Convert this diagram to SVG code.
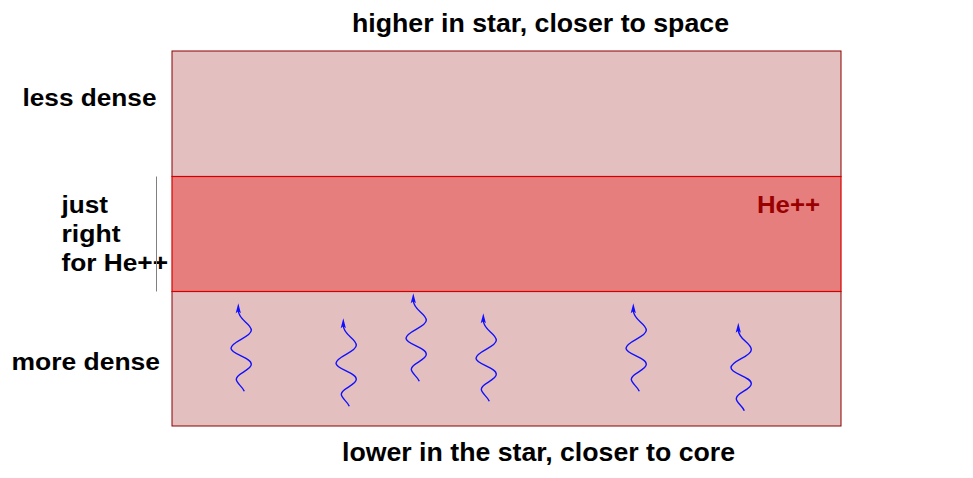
<svg xmlns="http://www.w3.org/2000/svg" xmlns:xlink="http://www.w3.org/1999/xlink" width="973" height="478" viewBox="0 0 973 478">
  <style>
    text { font-family: "Liberation Sans", Arial, sans-serif; font-weight: bold; fill: #000; }
    .side { font-size: 23px; }
    .edge { font-size: 25.5px; }
    .he { font-size: 24px; fill: #990000; }
    .light { fill: #e3bfc0; stroke: #8b0000; stroke-width: 1; }
    .mid { fill: #e67e7d; stroke: #d40000; stroke-width: 1.2; }
    .wave { fill: none; stroke: #1010ff; stroke-width: 1.4; }
    .head { fill: #1010ff; }
  </style>
  <defs>
    <g id="photon">
      <path class="wave" d="M6,88 C4,83 -2,80 -2,76 C-2,70 13,67 13,61 C13,54 -7.3,51 -7.3,45 C-7.3,38 13,34 13,27 C13,20 0,17 0,7"/>
      <polygon class="head" points="0,0 -2.6,10 0,8 2.6,10"/>
    </g>
  </defs>

  <g id="band-top">
    <rect class="light" x="172" y="51" width="669" height="125.5"/>
  </g>
  <g id="band-bottom">
    <rect class="light" x="172" y="291.5" width="669" height="134.5"/>
  </g>
  <g id="band-middle">
    <rect class="mid" x="172" y="176.5" width="669" height="115"/>
    <text class="he" x="757" y="212.5" textLength="63" lengthAdjust="spacingAndGlyphs">He++</text>
  </g>

  <g id="labels">
    <text class="edge" x="352" y="32" textLength="377" lengthAdjust="spacingAndGlyphs">higher in star, closer to space</text>
    <text class="edge" x="342" y="461" textLength="393" lengthAdjust="spacingAndGlyphs">lower in the star, closer to core</text>
    <text class="side" x="22.5" y="106" textLength="134" lengthAdjust="spacingAndGlyphs">less dense</text>
    <text class="side" x="11.5" y="370" textLength="148.5" lengthAdjust="spacingAndGlyphs">more dense</text>
    <text class="side" x="61.5" y="212.5" textLength="46.5" lengthAdjust="spacingAndGlyphs">just</text>
    <text class="side" x="61.5" y="241.5" textLength="59" lengthAdjust="spacingAndGlyphs">right</text>
    <text class="side" x="61.5" y="270.5" textLength="106.5" lengthAdjust="spacingAndGlyphs">for He++</text>
  </g>

  <g id="connectors">
    <line x1="156.5" y1="176.5" x2="156.5" y2="291.5" stroke="#808080" stroke-width="1"/>
    <use xlink:href="#photon" transform="translate(238.3,303.3)"/>
    <use xlink:href="#photon" transform="translate(343.3,318.3)"/>
    <use xlink:href="#photon" transform="translate(413.3,293.3)"/>
    <use xlink:href="#photon" transform="translate(483.3,313.3)"/>
    <use xlink:href="#photon" transform="translate(633.3,303.3)"/>
    <use xlink:href="#photon" transform="translate(738.3,322.7)"/>
  </g>
</svg>
